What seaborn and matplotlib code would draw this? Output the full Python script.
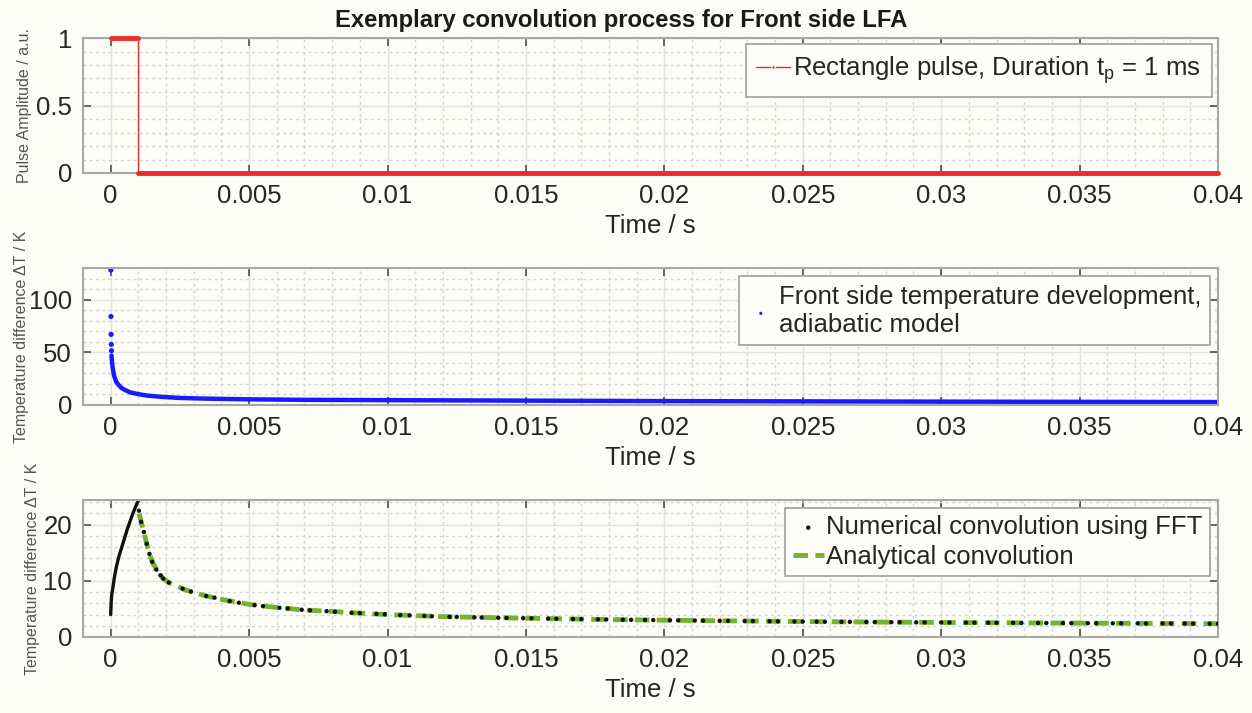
import numpy as np
import matplotlib
matplotlib.use("Agg")
import matplotlib.pyplot as plt
from matplotlib.ticker import MultipleLocator, FixedLocator, FuncFormatter
import seaborn as sns

# ---------------- data ----------------
pulse_t = [0.0, 0.001, 0.001, 0.04]
pulse_v = [1.0, 1.0, 0.0, 0.0]

# adiabatic front side temperature: isolated first samples + dense curve
adia_first_t = [0.000004, 0.00001, 0.000016, 0.000022, 0.000028]
adia_first_v = [128.0, 84.0, 67.0, 57.5, 51.5]
adia_t = [0.00003, 0.00005, 0.00008, 0.00012, 0.0002, 0.0003, 0.0004, 0.0005,
          0.0007, 0.001, 0.0013, 0.0018, 0.0025, 0.0035, 0.005, 0.007, 0.01,
          0.0133, 0.02, 0.03, 0.04]
adia_v = [47.0, 40.0, 34.0, 28.0, 22.0, 18.5, 16.0, 14.5, 12.0, 10.3, 9.0, 7.8,
          6.7, 6.0, 5.4, 4.9, 4.6, 4.3, 3.7, 3.2, 2.8]

# numerical convolution (FFT): dense rise during the pulse
rise_t = [0.0, 0.00001, 0.00002, 0.00004, 0.00008, 0.00013, 0.0002, 0.0003,
          0.0004, 0.0005, 0.0006, 0.0007, 0.0008, 0.0009, 0.001]
rise_v = [4.0, 5.2, 6.4, 7.6, 8.8, 10.5, 12.4, 14.4, 16.0, 17.6, 19.2, 20.6,
          22.0, 23.2, 24.3]
# numerical convolution (FFT): sampled decay after the pulse
fft_t = [0.00102, 0.0011, 0.0012, 0.0013, 0.0014, 0.0015, 0.00165, 0.0018, 0.0019,
         0.0021, 0.0026, 0.0029, 0.00345, 0.00375, 0.0043, 0.00463, 0.0052, 0.0055,
         0.0061, 0.0064, 0.0069, 0.0072, 0.0078, 0.0081, 0.0087, 0.0090, 0.0096,
         0.0099, 0.01046, 0.0108, 0.01133, 0.0116, 0.01224, 0.0125, 0.01314, 0.0134,
         0.0140, 0.0143, 0.0149, 0.0152, 0.0158, 0.0161, 0.0167, 0.0170, 0.0176,
         0.0179, 0.0185, 0.0188, 0.0193, 0.0196, 0.0202, 0.0205, 0.0211, 0.0214,
         0.0220, 0.0223, 0.0229, 0.0232, 0.0238, 0.0241, 0.0247, 0.0250, 0.0255,
         0.0258, 0.0264, 0.0267, 0.0273, 0.0276, 0.0282, 0.0285, 0.0291, 0.0294,
         0.0300, 0.0303, 0.0309, 0.0312, 0.0317, 0.0320, 0.0326, 0.0329, 0.0335,
         0.0338, 0.0344, 0.0347, 0.0353, 0.0356, 0.0362, 0.0365, 0.0371, 0.0374,
         0.0380, 0.0383, 0.0388, 0.0391, 0.0397, 0.0400]
fft_v = [22.5, 20.5, 18.7, 16.6, 14.8, 13.4, 12.0, 11.0, 10.4,
         9.7, 8.6, 8.1, 7.3, 7.0, 6.4, 6.1, 5.7, 5.5,
         5.2, 5.1, 4.85, 4.75, 4.6, 4.5, 4.3, 4.25, 4.1,
         4.05, 3.9, 3.85, 3.75, 3.7, 3.6, 3.57, 3.5, 3.48,
         3.43, 3.40, 3.35, 3.33, 3.27, 3.25, 3.20, 3.18, 3.14,
         3.12, 3.08, 3.06, 3.03, 3.01, 2.98, 2.96, 2.93, 2.91,
         2.88, 2.87, 2.84, 2.83, 2.80, 2.79, 2.76, 2.75, 2.73,
         2.72, 2.70, 2.69, 2.67, 2.66, 2.64, 2.63, 2.61, 2.60,
         2.59, 2.58, 2.56, 2.55, 2.54, 2.53, 2.52, 2.51, 2.50,
         2.49, 2.48, 2.47, 2.46, 2.45, 2.44, 2.44, 2.43, 2.42,
         2.41, 2.41, 2.40, 2.39, 2.38, 2.38]

# analytical convolution
ana_t = [0.00103, 0.0011, 0.0012, 0.0013, 0.0014, 0.0015, 0.0017, 0.0019, 0.0021,
         0.0026, 0.003, 0.0035, 0.004, 0.005, 0.006, 0.007, 0.008, 0.009, 0.01,
         0.012, 0.014, 0.016, 0.018, 0.02, 0.025, 0.03, 0.035, 0.04]
ana_v = [22.0, 20.5, 18.7, 16.6, 14.8, 13.4, 11.6, 10.4, 9.7,
         8.6, 7.9, 7.25, 6.7, 5.8, 5.25, 4.8, 4.55, 4.25, 4.0,
         3.62, 3.43, 3.26, 3.11, 2.99, 2.75, 2.59, 2.47, 2.38]

x_ticks = [0, 0.005, 0.01, 0.015, 0.02, 0.025, 0.03, 0.035, 0.04]
title = "Exemplary convolution process for Front side LFA"
xlabel = "Time / s"
ylabels = ["Pulse Amplitude / a.u.", "Temperature difference \u0394T / K",
           "Temperature difference \u0394T / K"]
y_major = [[0, 0.5, 1], [0, 50, 100], [0, 10, 20]]
y_minor_step = [0.1, 10, 2]
y_lims = [(0, 1), (0, 130), (0, 24.4)]
leg_pulse = "Rectangle pulse, Duration t$_{\\mathregular{p}}$ = 1 ms"
leg_adia = "Front side temperature development,\nadiabatic model"
leg_fft = "Numerical convolution using FFT"
leg_ana = "Analytical convolution"

# ---------------- style ----------------
sns.set_theme(style="white")
plt.rcParams["font.family"] = ["Liberation Sans", "DejaVu Sans"]
plt.rcParams["mathtext.fontset"] = "custom"
plt.rcParams["mathtext.rm"] = "Liberation Sans"
plt.rcParams["mathtext.it"] = "Liberation Sans"

BG = "#fdfdf7"
fig = plt.figure(figsize=(12.52, 7.13), dpi=100, facecolor=BG)

W = 1252.0
H = 713.0
left = 83 / W
width = (1218 - 83) / W
tops = [38, 268, 500]
bots = [173, 405, 637]
axes = []
for tp, bt in zip(tops, bots):
    ax = fig.add_axes([left, 1 - bt / H, width, (bt - tp) / H])
    axes.append(ax)

FS = 18.5
label_x = [-0.045, -0.048, -0.038]
for i, ax in enumerate(axes):
    ax.set_facecolor(BG)
    ax.set_xlim(-0.001, 0.04)
    ax.set_ylim(*y_lims[i])
    ax.xaxis.set_major_locator(FixedLocator(x_ticks))
    ax.xaxis.set_minor_locator(MultipleLocator(0.001))
    ax.yaxis.set_major_locator(FixedLocator(y_major[i]))
    ax.yaxis.set_minor_locator(MultipleLocator(y_minor_step[i]))
    ax.xaxis.set_major_formatter(FuncFormatter(lambda v, p: "%g" % round(v, 6)))
    ax.yaxis.set_major_formatter(FuncFormatter(lambda v, p: "%g" % round(v, 6)))
    ax.grid(True, which="major", color="#e2e2e2", lw=1.0, ls="-")
    ax.grid(True, which="minor", color="#d2d2d2", lw=1.0, ls=(0, (2, 2.5)))
    ax.set_axisbelow(True)
    ax.tick_params(which="major", direction="in", length=6, width=1.3,
                   color="#5a5a5a", top=True, right=True, bottom=True, left=True,
                   labelsize=FS, labelcolor="#262626", pad=8)
    ax.tick_params(which="minor", length=0)
    for s in ax.spines.values():
        s.set_color("#a8a8a8")
        s.set_linewidth(1.5)
    ax.set_xlabel(xlabel, fontsize=FS, color="#262626", labelpad=4)
    ax.set_ylabel(ylabels[i], fontsize=11.5, color="#555555")
    ax.yaxis.set_label_coords(label_x[i], 0.5)

# ---- panel 1: rectangular pulse
ax = axes[0]
sns.lineplot(x=pulse_t, y=pulse_v, ax=ax, color="#ee2b2b", lw=1.0,
             estimator=None, sort=False, label=leg_pulse, marker=".", markersize=5)
for i in range(len(pulse_t) - 1):
    if pulse_v[i] == pulse_v[i + 1]:
        sns.lineplot(x=pulse_t[i:i + 2], y=pulse_v[i:i + 2], ax=ax, color="#ee2b2b",
                     lw=3.5, estimator=None, sort=False, legend=False, clip_on=False,
                     zorder=4)

# ---- panel 2: adiabatic model
ax = axes[1]
sns.scatterplot(x=adia_first_t, y=adia_first_v, ax=ax, color="#1a1aff", s=14,
                edgecolor="none", label=leg_adia, clip_on=False)
sns.lineplot(x=adia_t, y=adia_v, ax=ax, color="#1a1aff", lw=3.2,
             estimator=None, sort=False, legend=False)

# ---- panel 3: convolution
ax = axes[2]
sns.lineplot(x=rise_t, y=rise_v, ax=ax, color="#111111", lw=2.4,
             estimator=None, sort=False, legend=False, clip_on=False)
sns.lineplot(x=ana_t, y=ana_v, ax=ax, color="#78b032", lw=3.5, ls=(0, (3, 1.5)),
             estimator=None, sort=False, label=leg_ana)
sns.scatterplot(x=fft_t, y=fft_v, ax=ax, color="#111111", s=10, edgecolor="none",
                label=leg_fft, zorder=5)

# legends
def style_leg(leg):
    fr = leg.get_frame()
    fr.set_edgecolor("#a0a0a0")
    fr.set_linewidth(1.2)
    fr.set_facecolor("#fdfdf9")
    fr.set_alpha(1.0)
    for t in leg.get_texts():
        t.set_color("#262626")

leg = axes[0].legend(loc="upper right", fontsize=FS, frameon=True, fancybox=False,
                     handlelength=1.3, handletextpad=0.15, borderpad=0.4,
                     borderaxespad=0.25)
style_leg(leg)

leg = axes[1].legend(loc="upper right", fontsize=FS, frameon=True, fancybox=False,
                     handlelength=1.0, handletextpad=0.2, borderpad=0.35,
                     borderaxespad=0.3, markerscale=0.6)
style_leg(leg)

h, l = axes[2].get_legend_handles_labels()
order = [l.index(leg_fft), l.index(leg_ana)]
leg = axes[2].legend([h[k] for k in order], [l[k] for k in order], loc="upper right",
                     fontsize=FS, frameon=True, fancybox=False, handlelength=1.2,
                     handletextpad=0.1, borderpad=0.3, borderaxespad=0.3,
                     labelspacing=0.2)
style_leg(leg)

fig.text(621 / W, 1 - 20 / H, title, ha="center", va="center", fontsize=17.2,
         fontweight="bold", color="#1a1a1a")

fig.savefig("out.png", dpi=100, facecolor=BG)
